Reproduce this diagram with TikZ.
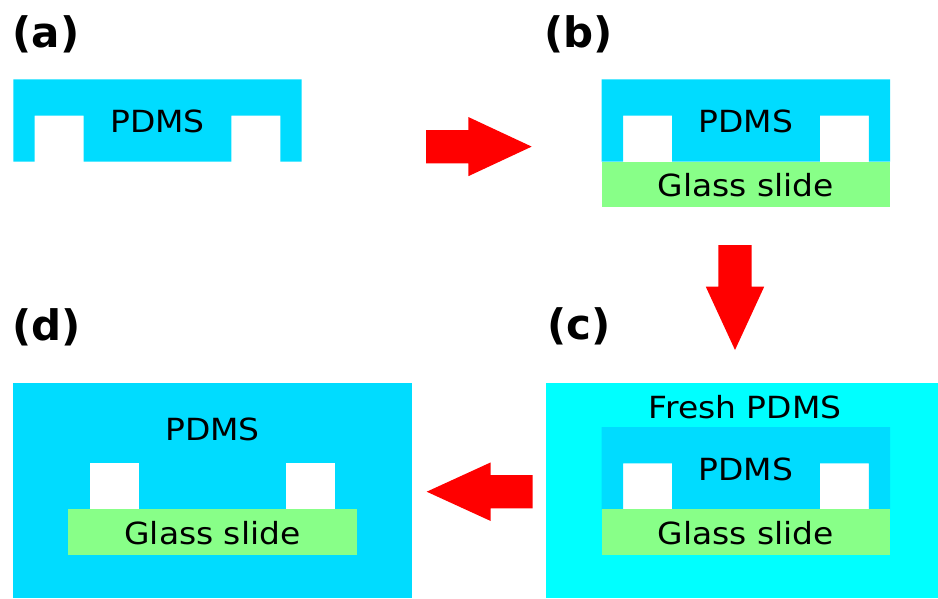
\documentclass[tikz,border=0pt]{standalone}
\usepackage{fontspec}
\setmainfont{DejaVu Sans}[FakeStretch=1.08]
\newfontfamily\labelfont{DejaVu Sans Bold}
\definecolor{pdms}{RGB}{0,220,255}
\definecolor{fresh}{RGB}{0,255,255}
\definecolor{glass}{RGB}{136,255,136}
\definecolor{arrowred}{RGB}{255,0,0}
\tikzset{
  txt/.style={font=\fontsize{30.5}{36}\selectfont, anchor=base, inner sep=0pt, text=black},
  lbl/.style={font=\labelfont\fontsize{42}{50}\selectfont, anchor=base west, inner sep=0pt, text=black},
  bigarrow/.style={fill=arrowred, draw=none},
  pdmsmold/.pic={
    \fill[pdms] (0,0) -- (288.4,0) -- (288.4,82.4) -- (267.1,82.4) -- (267.1,36.4)
      -- (218.1,36.4) -- (218.1,82.4) -- (70.3,82.4) -- (70.3,36.4) -- (21.3,36.4)
      -- (21.3,82.4) -- (0,82.4) -- cycle;
  },
  glassslide/.pic={
    \fill[glass] (0,82.4) rectangle (288.4,128);
  },
  channels/.pic={
    \fill[white] (21.3,36.4) rectangle (70.3,82.4);
    \fill[white] (218.1,36.4) rectangle (267.1,82.4);
  }
}
\begin{document}
\begin{tikzpicture}[x=1pt,y=-1pt]
\useasboundingbox (0,0) rectangle (938,598);

% (a)
\node[lbl] (la) at (12.5,47) {(a)};
\pic at (13.3,79.3) {pdmsmold};
\node[txt] (pa) at (157.5,132) {PDMS};

% arrow a -> b
\fill[bigarrow] (426,130) -- (468.3,130) -- (468.3,117) -- (531.7,146.6)
  -- (468.3,176.2) -- (468.3,163.3) -- (426,163.3) -- cycle;

% (b)
\node[lbl] (lb) at (544.5,47) {(b)};
\pic at (601.7,79.3) {pdmsmold};
\pic at (601.7,79.3) {glassslide};
\node[txt] (pb) at (745.9,132.7) {PDMS};
\node[txt] (gb) at (745.9,196.9) {Glass slide};

% arrow b -> c
\fill[bigarrow] (718.3,245) -- (751.7,245) -- (751.7,286.7) -- (764.2,286.7)
  -- (735,350) -- (705.8,286.7) -- (718.3,286.7) -- cycle;

% (c)
\node[lbl] (lc) at (547,339) {(c)};
\fill[fresh] (546,382.7) rectangle (938,598);
\pic at (601.7,427) {channels};
\pic at (601.7,427) {pdmsmold};
\pic at (601.7,427) {glassslide};
\node[txt] (fc) at (745,418) {Fresh PDMS};
\node[txt] (pc) at (745.9,480.7) {PDMS};
\node[txt] (gc) at (745.9,544.6) {Glass slide};

% arrow c -> d
\fill[bigarrow] (532.7,475) -- (490.7,475) -- (490.7,462.4) -- (426.7,491.7)
  -- (490.7,521) -- (490.7,508.4) -- (532.7,508.4) -- cycle;

% (d)
\node[lbl] (ld) at (12,340) {(d)};
\fill[pdms] (13.3,382.7) rectangle (411.7,598);
\pic at (68.3,427) {channels};
\pic at (68.3,427) {glassslide};
\node[txt] (pd) at (212.5,440.2) {PDMS};
\node[txt] (gd) at (212.5,544.6) {Glass slide};
\end{tikzpicture}
\end{document}
